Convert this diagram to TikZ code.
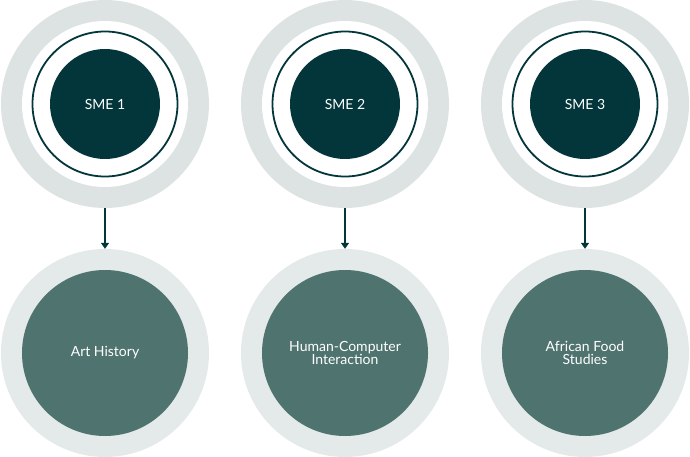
\documentclass[tikz,border=0pt]{standalone}
\usepackage{fontspec}
\setmainfont{Lato}
\usetikzlibrary{arrows.meta}
\definecolor{ringtop}{HTML}{DCE3E2}
\definecolor{ringbot}{HTML}{E3EAE9}
\definecolor{darkc}{HTML}{03363A}
\definecolor{midc}{HTML}{4F736F}
\tikzset{
  outertop/.style={circle,fill=ringtop,minimum size=208pt,inner sep=0pt},
  whitec/.style={circle,fill=white,minimum size=166pt,inner sep=0pt},
  ringline/.style={circle,draw=darkc,line width=1.8pt,minimum size=145pt,inner sep=0pt},
  smec/.style={circle,fill=darkc,minimum size=110pt,inner sep=0pt,text=white,font=\fontsize{14}{16}\selectfont},
  outerbot/.style={circle,fill=ringbot,minimum size=208pt,inner sep=0pt},
  topicc/.style={circle,fill=midc,minimum size=166pt,inner sep=0pt,text=white,align=center,font=\fontsize{14}{13.5}\selectfont},
  arr/.style={draw=darkc,line width=1.4pt,-{Triangle[width=8pt,length=6pt]}}
}
\begin{document}
\begin{tikzpicture}[x=1pt,y=-1pt]
\useasboundingbox (0,0) rectangle (690,457);
\foreach \i/\x/\t/\lab in {1/105/SME 1/Art History,2/345/SME 2/{Human-Computer\\Interaction},3/585/SME 3/{African Food\\Studies}}{
  \node[outertop] (o\i) at (\x,104) {};
  \node[whitec] (w\i) at (\x,104) {};
  \node[ringline] (r\i) at (\x,104) {};
  \node[smec] (s\i) at (\x,104) {\t};
  \node[outerbot] (b\i) at (\x,353) {};
  \node[topicc] (t\i) at (\x,353) {\lab};
  \draw[arr] (o\i.south) -- (b\i.north);
}
\end{tikzpicture}
\end{document}
